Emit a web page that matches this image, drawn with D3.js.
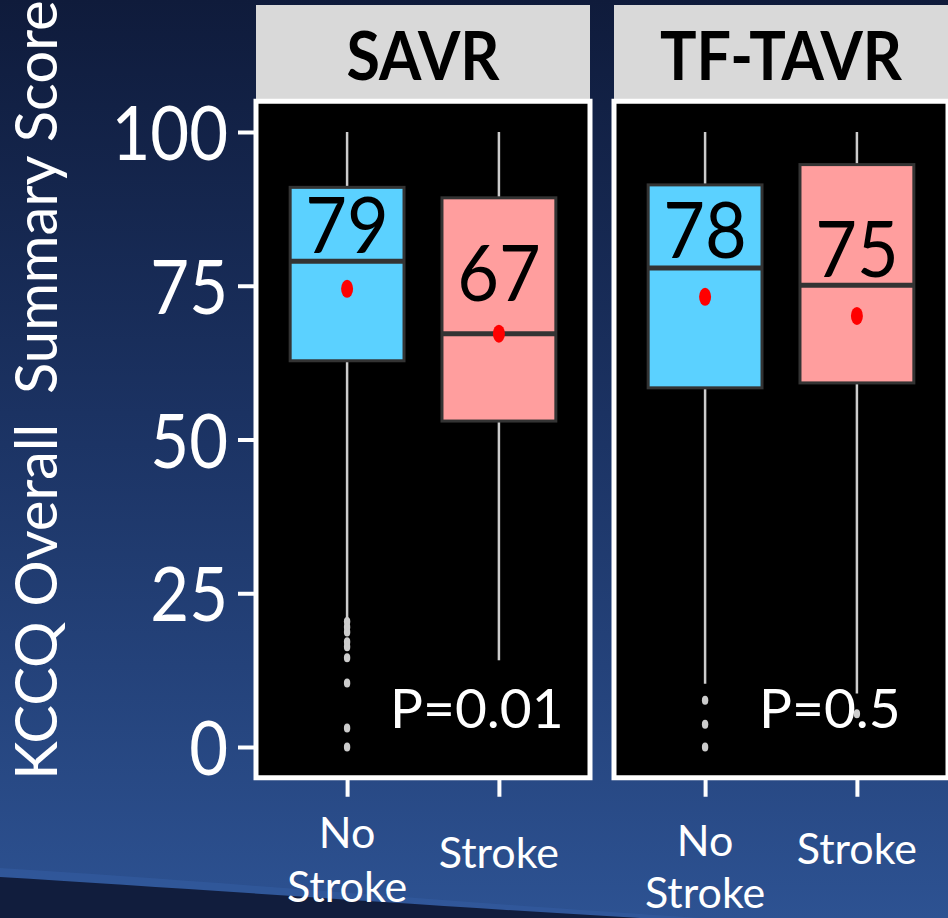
<!DOCTYPE html>
<html>
<head>
<meta charset="utf-8">
<script src="https://cdn.jsdelivr.net/npm/d3@7"></script>
<style>
  html, body { margin: 0; padding: 0; background: #1b2f5c; }
  svg { display: block; }
  text { font-family: Lato, "Open Sans", "Noto Sans", sans-serif; }
</style>
</head>
<body>
<svg id="chart" width="948" height="918"></svg>
<script>
// ---------------- data ----------------
const panels = ["SAVR", "TF-TAVR"];
const groups = ["No Stroke", "Stroke"];
const groupLines = [["No", "Stroke"], ["Stroke"]];
const whiskerHigh = [[100, 100], [100, 100]];
const q3 = [[91.0, 89.3], [91.4, 94.7]];
const medians = [[79.0, 67.2], [77.9, 75.1]];
const q1 = [[62.8, 53.0], [58.4, 59.2]];
const whiskerLow = [[20.6, 14.1], [10.3, 8.7]];
const means = [[74.5, 67.2], [73.2, 70.1]];
const outliers = [
  [[20.4, 19.5, 18.7, 17.1, 16.3, 14.5, 10.4, 3.1, 0], []],
  [[7.6, 3.7, 0], [5.4]]
];
const medianLabels = [["79", "67"], ["78", "75"]];
const medianLabelAt = [[80.3, 72.5], [79.5, 76.4]];
const pValues = ["P=0.01", "P=0.5"];
const yTicks = [0, 25, 50, 75, 100];
const yTitle = "KCCQ Overall  Summary Score";
const boxColors = ["#5bd1ff", "#ff9e9e"];

// ---------------- layout ----------------
const W = 948, H = 918;
const panelLeft = [256, 614];
const panelWidth = 334;
const svg = d3.select("#chart");

const y = d3.scaleLinear().domain([0, 100]).range([747, 132]);
const yTop = y(105), yBot = y(-5);

// background
const defs = svg.append("defs");
const grad = defs.append("linearGradient").attr("id", "bg")
  .attr("x1", 0).attr("y1", 0).attr("x2", 0).attr("y2", 1);
grad.append("stop").attr("offset", "0%").attr("stop-color", "#0f1b3b");
grad.append("stop").attr("offset", "45%").attr("stop-color", "#1b3262");
grad.append("stop").attr("offset", "100%").attr("stop-color", "#2d5292");
svg.append("rect").attr("width", W).attr("height", H).attr("fill", "url(#bg)");

// swoosh bottom-left
svg.append("path")
  .attr("d", "M0,868 C200,880 420,900 700,918 L0,918 Z")
  .attr("fill", "#345ba0").attr("opacity", 0.6);
svg.append("path")
  .attr("d", "M0,877 C180,888 400,904 640,918 L0,918 Z")
  .attr("fill", "#111d3d");

// y axis title
svg.append("text")
  .attr("transform", "translate(57,390) rotate(-90)")
  .attr("text-anchor", "middle")
  .attr("fill", "#ffffff")
  .attr("font-size", 58)
  .style("white-space", "pre")
  .text(yTitle);

// y axis
const yAxis = svg.append("g")
  .attr("transform", `translate(${panelLeft[0]},0)`)
  .call(d3.axisLeft(y).tickValues(yTicks).tickSizeInner(18).tickSizeOuter(0).tickPadding(10));
yAxis.select(".domain").remove();
yAxis.selectAll(".tick line").attr("stroke", "#ffffff").attr("stroke-width", 4);
yAxis.selectAll(".tick text")
  .attr("fill", "#ffffff")
  .attr("font-size", 67)
  .attr("font-family", "Lato, 'Open Sans', sans-serif")
  .attr("dy", "0.36em")
  .attr("transform", "scale(1,1.14)");

panels.forEach((pname, p) => {
  const left = panelLeft[p];
  const x = d3.scalePoint().domain(groups).range([left, left + panelWidth]).padding(0.6);
  const step = x.step();
  const bw = step * 0.75;
  const g = svg.append("g");

  // strip
  g.append("rect")
    .attr("x", left).attr("y", 5)
    .attr("width", panelWidth).attr("height", yTop - 4)
    .attr("fill", "#d9d9d9");
  g.append("text")
    .attr("transform", `translate(${left + panelWidth / 2},80) scale(1,1.1)`)
    .attr("text-anchor", "middle")
    .attr("font-weight", 700)
    .attr("font-size", 61)
    .attr("fill", "#000000")
    .text(pname);

  // panel
  g.append("rect")
    .attr("x", left).attr("y", yTop)
    .attr("width", panelWidth).attr("height", yBot - yTop)
    .attr("fill", "#000000")
    .attr("stroke", "#ffffff").attr("stroke-width", 5);

  // bottom ticks
  const xAxis = g.append("g")
    .attr("transform", `translate(0,${yBot + 2})`)
    .call(d3.axisBottom(x).tickSizeInner(17).tickSizeOuter(0).tickFormat(""));
  xAxis.select(".domain").remove();
  xAxis.selectAll(".tick line").attr("stroke", "#ffffff").attr("stroke-width", 4);

  // x labels
  groups.forEach((grp, i) => {
    const lines = groupLines[i];
    const base = lines.length === 2 ? (848 + p * 8) : (868 - p * 4);
    const gap = p === 0 ? 54 : 52;
    lines.forEach((ln, k) => {
      g.append("text")
        .attr("x", x(grp)).attr("y", base + k * gap)
        .attr("text-anchor", "middle")
        .attr("fill", "#ffffff")
        .attr("font-size", 43)
        .text(ln);
    });
  });

  // P value text
  g.append("text")
    .attr("x", p === 0 ? left + 134 : left + 145)
    .attr("y", 728)
    .attr("fill", "#ffffff")
    .attr("font-size", 55)
    .text(pValues[p]);

  groups.forEach((grp, i) => {
    const cx = x(grp);
    // whiskers
    g.append("line")
      .attr("x1", cx).attr("x2", cx)
      .attr("y1", y(whiskerHigh[p][i])).attr("y2", y(q3[p][i]))
      .attr("stroke", "#cccccc").attr("stroke-width", 2.5);
    g.append("line")
      .attr("x1", cx).attr("x2", cx)
      .attr("y1", y(q1[p][i])).attr("y2", y(whiskerLow[p][i]))
      .attr("stroke", "#cccccc").attr("stroke-width", 2.5);
    // box
    g.append("rect")
      .attr("x", cx - bw / 2).attr("y", y(q3[p][i]))
      .attr("width", bw).attr("height", y(q1[p][i]) - y(q3[p][i]))
      .attr("fill", boxColors[i])
      .attr("stroke", "#333333").attr("stroke-width", 3);
    // median
    g.append("line")
      .attr("x1", cx - bw / 2).attr("x2", cx + bw / 2)
      .attr("y1", y(medians[p][i])).attr("y2", y(medians[p][i]))
      .attr("stroke", "#333333").attr("stroke-width", 5);
    // outliers
    g.selectAll(null).data(outliers[p][i]).enter().append("ellipse")
      .attr("cx", cx).attr("cy", d => y(d))
      .attr("rx", 3.2).attr("ry", 4.5)
      .attr("fill", "#cccccc");
    // mean
    g.append("ellipse")
      .attr("cx", cx).attr("cy", y(means[p][i]))
      .attr("rx", 6).attr("ry", 9)
      .attr("fill", "#ff0000");
    // median label
    g.append("text")
      .attr("transform", `translate(${cx},${y(medianLabelAt[p][i])}) scale(1,1.07)`)
      .attr("text-anchor", "middle")
      .attr("fill", "#000000")
      .attr("font-size", 72)
      .text(medianLabels[p][i]);
  });
});
</script>
</body>
</html>
